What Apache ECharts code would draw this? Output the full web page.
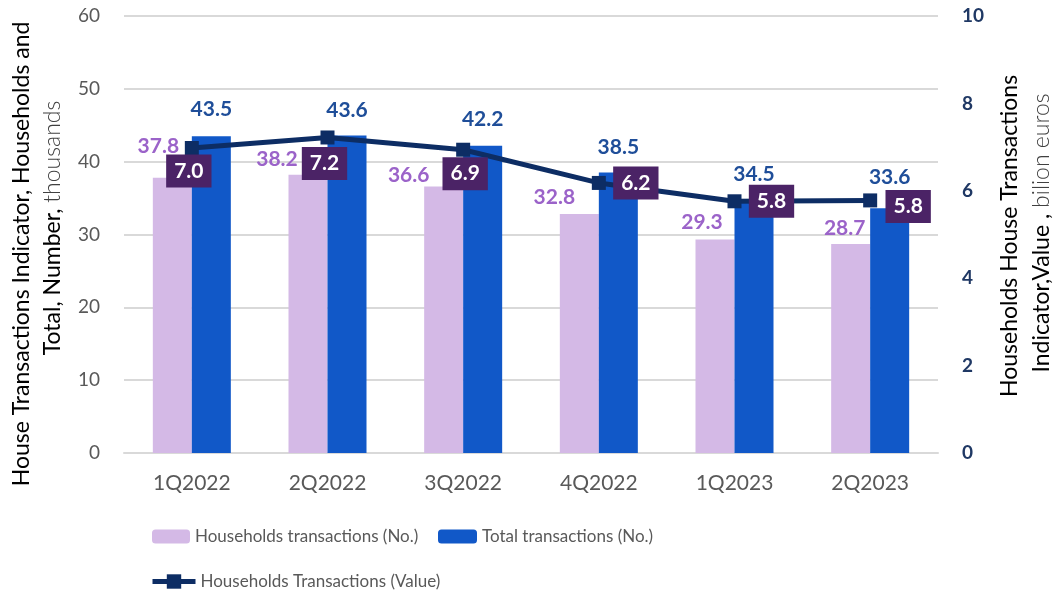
<!DOCTYPE html>
<html>
<head>
<meta charset="utf-8">
<script src="https://cdn.jsdelivr.net/npm/echarts@6/dist/echarts.min.js"></script>
<style>
  html, body { margin: 0; padding: 0; background: #fff; }
  #chart { width: 1055px; height: 596px; }
</style>
</head>
<body>
<div id="chart"></div>
<script>
// data
var quarters = ['1Q2022', '2Q2022', '3Q2022', '4Q2022', '1Q2023', '2Q2023']
var householdsNo = [37.8, 38.2, 36.6, 32.8, 29.3, 28.7]
var totalNo = [43.5, 43.6, 42.2, 38.5, 34.5, 33.6]
var householdsValue = [6.98, 7.22, 6.94, 6.18, 5.76, 5.78]
var leftTicks = [0, 60, 10]
var rightTicks = [0, 10, 2]

// label nudges (styling only)
var hhOffsets = [[-14, -21], [-31, -5], [-35, -1], [-25, -6], [-13, -7], [-6, -5]]
var totOffsets = [[0, -16], [0, -15], [0, -16], [0, -15], [0, -17], [0, -21]]
var valOffsets = [[-3, 23], [-3, 26], [2, 24], [37, 0], [37, 0], [38, 6]]

var FONT = 'Lato'
var LAVENDER = '#d4b9e6'
var BLUE = '#1158c8'
var NAVY = '#0d2d64'
var BOX = '#4b2366'

var chart = echarts.init(document.getElementById('chart'))

function withOffsets(values, offsets) {
    return values.map(function (v, i) {
        return { value: v, label: { offset: offsets[i] } }
    })
}

// measure text so the two-weight axis titles can be pieced together
var measureCtx = document.createElement('canvas').getContext('2d')
function textWidth(str, font) {
    measureCtx.font = font
    return measureCtx.measureText(str).width
}

// vertical title line read bottom -> top, centred at (x, cy), second part lighter
function titleLine(x, cy, partA, partB) {
    var fontA = '23px ' + FONT
    var fontB = '300 23px ' + FONT
    var wA = textWidth(partA + ' ', fontA)
    var wB = partB ? textWidth(partB, fontB) : 0
    var start = cy + (wA + wB) / 2
    var els = [{
        type: 'text', x: x, y: start, rotation: Math.PI / 2,
        style: { text: partA, font: fontA, fill: '#000', align: 'left', verticalAlign: 'middle' }
    }]
    if (partB) {
        els.push({
            type: 'text', x: x, y: start - wA, rotation: Math.PI / 2,
            style: { text: partB, font: fontB, fill: '#404040', align: 'left', verticalAlign: 'middle' }
        })
    }
    return els
}

var legendText = { color: '#595959', fontSize: 17, fontFamily: FONT }

var option = {
    animation: false,
    textStyle: { fontFamily: FONT },
    grid: { left: 124, right: 117, top: 16, bottom: 143 },
    legend: [
        {
            data: ['Households transactions (No.)'],
            left: 152, top: 528, padding: 0,
            itemWidth: 38, itemHeight: 14, itemTextGap: 5,
            textStyle: legendText
        },
        {
            data: ['Total transactions (No.)'],
            left: 438, top: 528, padding: 0,
            itemWidth: 39, itemHeight: 14, itemTextGap: 4,
            textStyle: legendText
        },
        {
            data: [{ name: 'Households Transactions (Value)', lineStyle: { width: 5 } }],
            left: 150, top: 573, padding: 0,
            itemWidth: 43, itemHeight: 18, itemTextGap: 2,
            textStyle: legendText
        }
    ],
    xAxis: {
        type: 'category',
        data: quarters,
        axisTick: { show: false },
        axisLine: { lineStyle: { color: '#d9d9d9', width: 2 } },
        axisLabel: { color: '#595959', fontSize: 21, margin: 20, fontFamily: FONT }
    },
    yAxis: [
        {
            type: 'value',
            min: leftTicks[0], max: leftTicks[1], interval: leftTicks[2],
            axisLine: { show: false },
            axisTick: { show: false },
            splitLine: { lineStyle: { color: '#d9d9d9', width: 2 } },
            axisLabel: { color: '#595959', fontSize: 19, margin: 24, fontFamily: FONT }
        },
        {
            type: 'value',
            min: rightTicks[0], max: rightTicks[1], interval: rightTicks[2],
            axisLine: { show: false },
            axisTick: { show: false },
            splitLine: { show: false },
            axisLabel: { color: '#1f3864', fontSize: 19, fontWeight: 'bold', margin: 24, fontFamily: FONT }
        }
    ],
    series: [
        {
            name: 'Households transactions (No.)',
            type: 'bar',
            barWidth: 39,
            barGap: '0%',
            itemStyle: { color: LAVENDER },
            label: {
                show: true, position: 'top', distance: 0,
                color: '#9b63c9', fontSize: 21, fontWeight: 'bold', fontFamily: FONT,
                formatter: function (p) { return p.value.toFixed(1) }
            },
            data: withOffsets(householdsNo, hhOffsets)
        },
        {
            name: 'Total transactions (No.)',
            type: 'bar',
            barWidth: 39,
            itemStyle: { color: BLUE },
            label: {
                show: true, position: 'top', distance: 0,
                color: '#1f4e99', fontSize: 21, fontWeight: 'bold', fontFamily: FONT,
                formatter: function (p) { return p.value.toFixed(1) }
            },
            data: withOffsets(totalNo, totOffsets)
        },
        {
            name: 'Households Transactions (Value)',
            type: 'line',
            yAxisIndex: 1,
            z: 5,
            symbol: 'rect',
            symbolSize: 14,
            lineStyle: { color: NAVY, width: 5 },
            itemStyle: { color: NAVY },
            label: {
                show: true, position: 'inside',
                backgroundColor: BOX, color: '#fff',
                padding: [6, 8], fontSize: 21, fontWeight: 'bold', fontFamily: FONT,
                formatter: function (p) { return p.value.toFixed(1) }
            },
            labelLayout: function (params) {
                var o = valOffsets[params.dataIndex]
                return { dx: o[0], dy: o[1], hideOverlap: false }
            },
            data: householdsValue
        }
    ],
    graphic: [].concat(
        titleLine(22, 251, 'House Transactions Indicator, Households and'),
        titleLine(53, 228, 'Total, Number,', 'thousands'),
        titleLine(1010, 233, 'Households House Transactions'),
        titleLine(1042, 233, 'Indicator,Value ,', 'bilion euros')
    )
}

chart.setOption(option)
</script>
</body>
</html>
